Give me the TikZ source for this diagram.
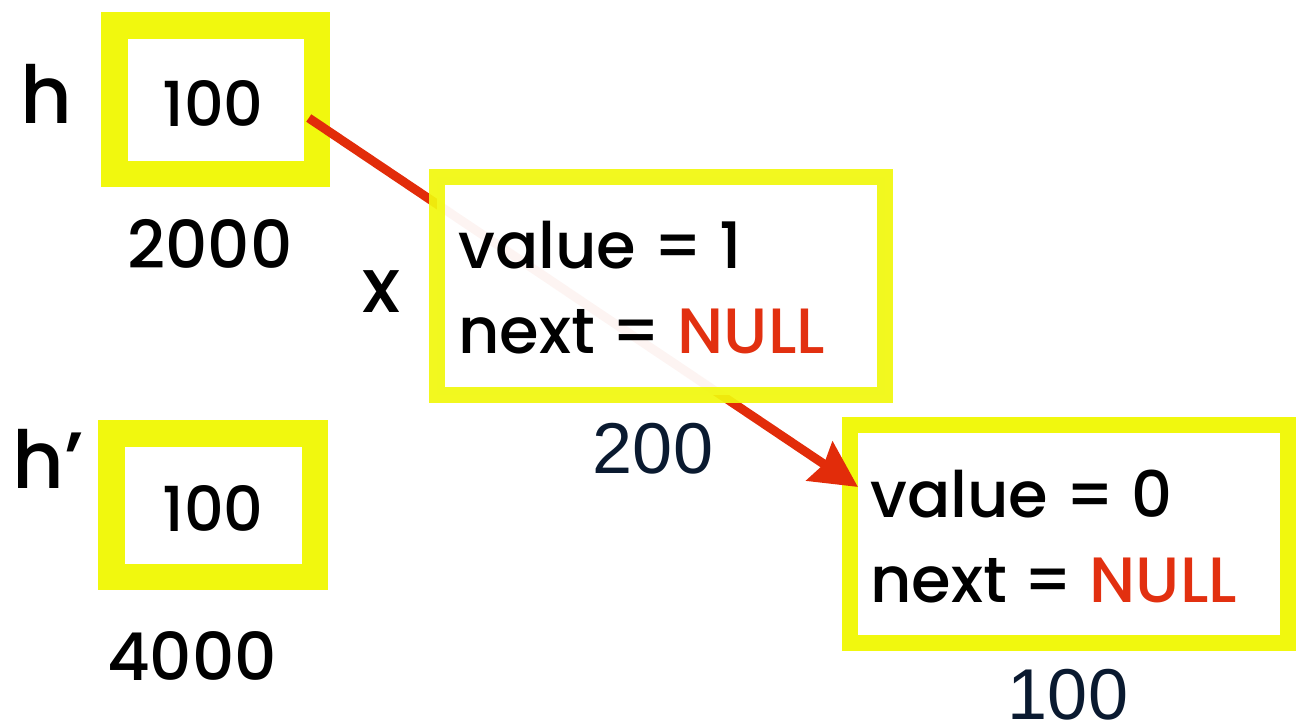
\documentclass[tikz,border=0pt]{standalone}
\usepackage{fontspec}
\setmainfont{Poppins}[UprightFont={* Medium}]
\newfontfamily\addrfont{Liberation Sans}
\usetikzlibrary{arrows.meta,calc}
\definecolor{frameyellow}{RGB}{241,248,14}
\definecolor{ptrred}{RGB}{226,44,10}
\definecolor{nullred}{RGB}{226,48,16}
\definecolor{addrnavy}{RGB}{10,26,48}
\newcommand{\fs}[1]{\fontsize{#1}{#1}\selectfont}
\tikzset{
  varbox/.style={draw=frameyellow, line width=26.5pt, fill=white,
    inner sep=0pt, outer sep=0pt},
  nodebox/.style={draw=frameyellow, line width=16pt, fill=white,
    inner sep=0pt, outer sep=0pt, minimum height=218pt},
  field/.style={anchor=base west, inner sep=0pt, font=\fs{64}},
  boxval/.style={inner sep=0pt, font=\fs{62}},
  varname/.style={anchor=base, inner sep=0pt, font=\fs{80}},
  comicaddr/.style={anchor=base, inner sep=0pt, font=\fs{66}},
  addr/.style={anchor=base, inner sep=0pt, font=\addrfont\fs{72}, text=addrnavy},
  ptr/.style={draw=ptrred, line width=9pt,
    -{Stealth[length=46pt, width=46pt, inset=5pt]}},
}
\begin{document}
\begin{tikzpicture}[x=1pt, y=-1pt]
\useasboundingbox (0,0) rectangle (1296,720);

% pointer variables h and h'
\node[varbox, minimum width=202.5pt, minimum height=148.5pt] (hbox) at (215.5,99.5) {};
\node[boxval] (hval) at (213,103) {100};
\node[varname] (hname) at (46,123) {h};
\node[comicaddr] (haddr) at (210,268) {2000};

\node[varbox, minimum width=203.5pt, minimum height=143.5pt] (hpbox) at (213,505) {};
\node[boxval] (hpval) at (213,508) {100};
\node[varname] (hpname) at (48,488) {h’};
\node[comicaddr] (hpaddr) at (192,680) {4000};

% list node at address 100
\node[nodebox, minimum width=438pt] (nodeA) at (1069,534) {};
\node[field] (nodeAv) at (870,517) {value = 0};
\node[field] (nodeAn) at (870,602) {next = \textcolor{nullred}{NULL}};
\node[addr] (nodeAaddr) at (1068,719) {100};

% pointer from h to the list node
\coordinate (hptr) at ($(hbox.east)+(-8,18.5)$);
\coordinate (atip) at ($(nodeA.north west)+(8,62)$);
\draw[ptr] (hptr) -- (atip);

% new node x at address 200, drawn over the pointer
\node[nodebox, minimum width=448pt, fill opacity=0.95, draw opacity=0.93] (nodeX) at (661,286) {};
\node[field] (nodeXv) at (458,268) {value = 1};
\node[field] (nodeXn) at (458,353) {next = \textcolor{nullred}{NULL}};
\node[varname, font=\fs{76}] (xname) at (381,312) {x};
\node[addr] (nodeXaddr) at (653,473) {200};
\end{tikzpicture}
\end{document}
